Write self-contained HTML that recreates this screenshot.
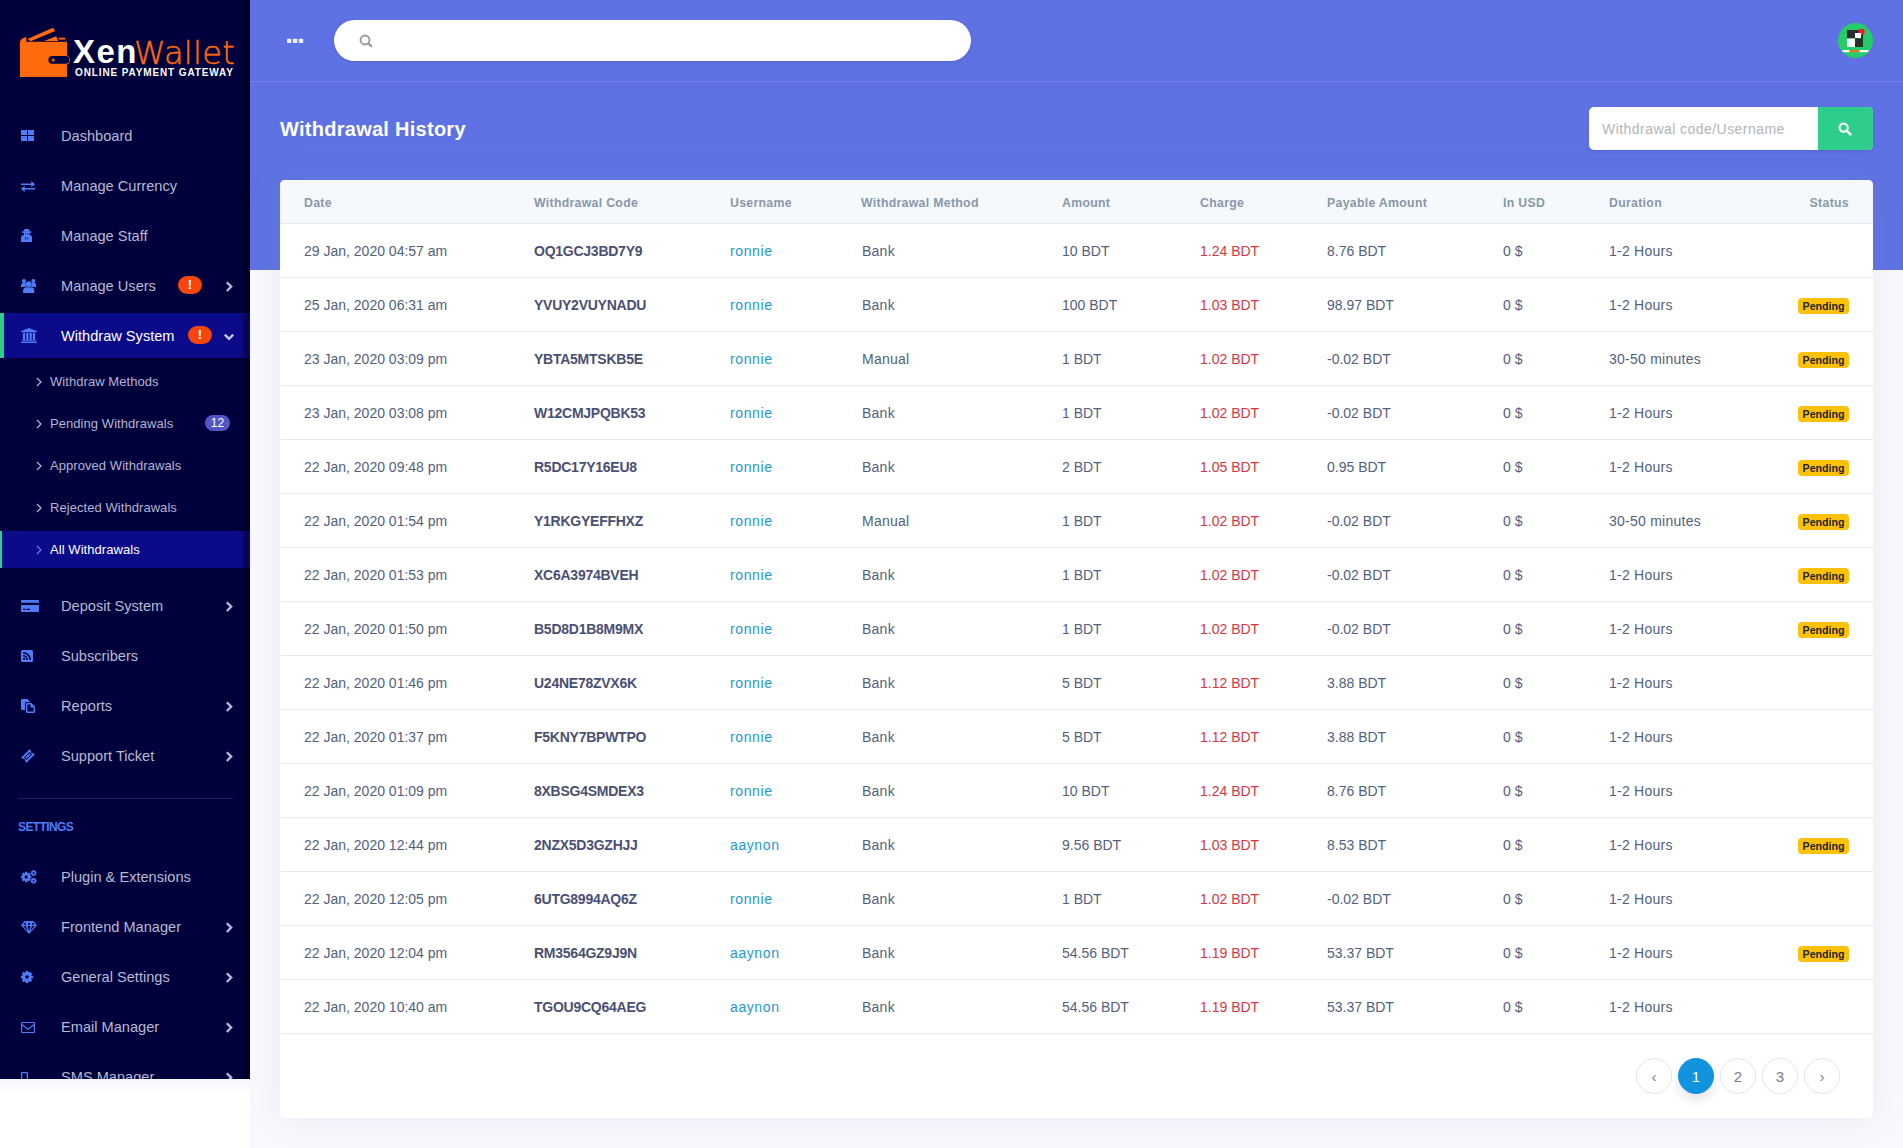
<!DOCTYPE html>
<html lang="en">
<head>
<meta charset="utf-8">
<title>Withdrawal History</title>
<style>
*{box-sizing:border-box;margin:0;padding:0}
html,body{width:1903px;height:1148px;overflow:hidden}
body{font-family:"Liberation Sans",sans-serif;background:#f8f9fe;position:relative;color:#525f7f}
#below{position:absolute;left:0;top:1079px;width:250px;height:69px;background:#fff}
#below:before{content:"";position:absolute;left:0;top:0;width:250px;height:16px;background:linear-gradient(#f7f7fb,#fff)}
#side{position:absolute;left:0;top:0;width:250px;height:1079px;background:#00003d;overflow:hidden}
#side .sb{position:absolute;right:0;top:0;width:9px;height:100%;background:linear-gradient(90deg,rgba(0,0,0,.05),rgba(0,0,0,.45) 55%,rgba(0,0,0,.3));z-index:5}
#hdr{position:absolute;left:250px;top:0;width:1653px;height:270px;background:#5e72e4}
#hdr .line{position:absolute;left:0;top:81px;width:100%;height:1px;background:rgba(255,255,255,.13)}
.mi{position:absolute;left:0;width:250px;height:45px;color:#b9b9d3;font-size:14.6px;line-height:47px;letter-spacing:0}
.mi .t{position:absolute;left:61px;top:0;white-space:nowrap}
.mi svg.ic{position:absolute;left:20px;top:13px;width:18px;height:18px;fill:#4f7bf7}
.mi .ar{position:absolute;left:223px;top:17px;width:12px;height:14px}
.mi.act{background:#0b0b8a;color:#fff;border-left:4px solid #2dce89}
.mi.act .t{left:57px}.mi.act .ex{left:184px}.mi.act svg.ic{left:16px}.mi.act .ar{left:219px}
.ex{position:absolute;left:178px;top:13px;width:24px;height:18px;border-radius:9px;background:#f8450b;color:#fff;font-weight:bold;font-size:13px;line-height:18px;text-align:center}
.si{position:absolute;left:0;width:250px;height:37px;color:#b4b4cf;font-size:13px;line-height:38px;letter-spacing:.06px}
.si .t{position:absolute;left:50px;top:0;white-space:nowrap}
.si svg{position:absolute;left:36px;top:14px;width:6px;height:10px}
.si.act{background:#0b0b8a;color:#fff;border-left:2px solid #2dce89}
.si.act .t{left:48px}.si.act svg{left:34px}
.cnt{position:absolute;left:205px;top:10px;width:25px;height:16px;border-radius:8px;background:#5355c4;color:#fff;font-size:12px;line-height:17px;text-align:center;letter-spacing:0}

#card{position:absolute;left:280px;top:180px;width:1593px;height:938px;background:#fff;border-radius:5px;box-shadow:0 0 32px rgba(136,152,170,.15);overflow:hidden}
table{border-collapse:collapse;table-layout:fixed;width:1593px}
th{height:43px;background:#f6f9fc;color:#8898aa;font-size:12.3px;font-weight:bold;text-align:left;padding:4px 0 0 24px;border-bottom:1px solid #e9ecef;white-space:nowrap;letter-spacing:.3px}
td{height:54px;font-size:14px;color:#525f7f;padding:2px 0 0 24px;border-bottom:1px solid #e9ecef;white-space:nowrap;vertical-align:middle;letter-spacing:0}
th.c10{text-align:right;padding:4px 24px 0 0}td.c10{text-align:right;padding:2px 24px 0 0}
td.c2{font-weight:bold;color:#4a5073;letter-spacing:-.25px}
td.c3{color:#1b9ad6;letter-spacing:.6px}
td.c4{letter-spacing:.25px;padding-left:25px}
td.c9{letter-spacing:.25px}
td.c6{color:#d9363e}
.bdg{display:inline-block;position:relative;top:0;width:51px;height:16px;line-height:16px;padding:0;text-align:center;border-radius:4px;background:#ffc107;color:#212529;font-size:10.6px;font-weight:bold;letter-spacing:0}
.pg{position:absolute;top:878px;width:36px;height:36px;border-radius:50%;border:1px solid #e3e5e8;color:#767c88;font-size:15px;line-height:35px;text-align:center}
.pg.on{background:#1194dd;border-color:#1194dd;color:#fff;box-shadow:0 6px 10px rgba(50,50,93,.12)}
</style>
</head>
<body>
<div id="below"></div>
<div id="hdr"><div class="line"></div></div>
<div id="side"><div class="sb"></div>
<svg style="position:absolute;left:14px;top:20px;width:70px;height:64px" viewBox="14 20 70 64">
<g fill="#ff6b0c">
<path d="M19.900 77.100V43.500c0-3.500 2.300-5.700 5.800-6.200l.5 0 .2 4.400H67v35.400z"/>
<path d="M27.400 39L53 27.800l2.200 3.300L30.700 41.200z"/>
<path d="M44.100 41l12.300-4.800 1.600 4.800z"/>
<rect x="58.600" y="37.700" width="6.600" height="1.900"/>
<rect x="47.600" y="55.300" width="22.500" height="9.200" rx="4.600"/>
</g>
<rect x="48.400" y="56.100" width="20.900" height="7.600" rx="3.800" fill="#00003d"/>
<circle cx="53.300" cy="59.900" r="1.500" fill="#ff6b0c"/>
</svg>
<div style="position:absolute;left:73px;top:35px;font-size:33px;line-height:34px;font-weight:bold;color:#fff;letter-spacing:1.4px;white-space:nowrap">Xen</div>
<div style="position:absolute;left:134px;top:35.500px;font-size:32px;line-height:34px;color:#ff6a0d;-webkit-text-stroke:.45px #ff6a0d;white-space:nowrap;font-family:'DejaVu Sans','Liberation Sans',sans-serif;font-weight:200;letter-spacing:.3px" id="wal">Wallet</div>
<div style="position:absolute;left:75px;top:66.500px;font-size:10px;line-height:12px;font-weight:bold;color:#fff;white-space:nowrap;letter-spacing:.88px" id="opg">ONLINE PAYMENT GATEWAY</div>

<div class="mi" style="top:113px"><span class="t">Dashboard</span></div>
<svg style="position:absolute;left:21px;top:130px;width:13px;height:11px;fill:#4f7cf6" viewBox="0 0 13 11"><rect x="0" y="0" width="6" height="5"/><rect x="7" y="0" width="6" height="5"/><rect x="0" y="6" width="6" height="5"/><rect x="7" y="6" width="6" height="5"/></svg>
<div class="mi" style="top:163px"><span class="t">Manage Currency</span></div>
<svg style="position:absolute;left:21px;top:181px;width:14px;height:11px;fill:#4f7cf6" viewBox="0 0 14 11"><path d="M0 2.400h10.300V0L14 3.200 10.300 6.300V4H0z"/><path d="M14 8.600H3.700V11L0 7.800 3.700 4.700V7H14z"/></svg>
<div class="mi" style="top:213px"><span class="t">Manage Staff</span></div>
<svg style="position:absolute;left:20.8px;top:229px;width:11.4px;height:13px;fill:#4f7cf6" viewBox="0 0 11.4 13"><path d="M3.500 0h4.400l1 2.500H2.500z"/><rect x="1.100" y="2.300" width="9.200" height="1.700" rx=".7"/><path fill-rule="evenodd" d="M2.900 3.900h5.600v2.400H2.900zM4 4.500v.7h1.200v-.7zM6.200 4.500v.7h1.200v-.7z"/><path fill-rule="evenodd" d="M0 13V9c0-1.800 1.300-3 3-3h5.400c1.700 0 3 1.200 3 3v4zM4.200 8.200v2.200h.8V8.200zM6.400 8.200v2.200h.8V8.200z"/></svg>
<div class="mi" style="top:263px"><span class="t">Manage Users</span><span class="ex">!</span><svg class="ar" viewBox="0 0 12 14"><path d="M3.800 2.200 L8.200 6.600 L3.800 11" fill="none" stroke="#b9b9d6" stroke-width="2.300"/></svg></div>
<svg style="position:absolute;left:20.8px;top:279px;width:15.4px;height:14px;fill:#4f7cf6" viewBox="0 0 15.4 14"><circle cx="7.700" cy="5.100" r="2.900"/><path d="M2.100 14v-2.600c0-1.900 1.500-3.100 3.300-3.100h4.600c1.800 0 3.300 1.200 3.300 3.100V14z"/><circle cx="3" cy="2.100" r="2.100"/><circle cx="12.400" cy="2.100" r="2.100"/><path d="M0 8.100V6.200c0-1.400 1-2.300 2.300-2.300h1.400c.4 0 .8.100 1.100.300-.3 1.300.1 2.500 1 3.400-1.300.1-2.300.300-3 .500z"/><path d="M15.400 8.100V6.200c0-1.400-1-2.300-2.300-2.300h-1.400c-.4 0-.8.100-1.100.300.3 1.300-.1 2.500-1 3.400 1.300.1 2.300.300 3 .500z"/></svg>
<div class="mi act" style="top:313px"><span class="t">Withdraw System</span><span class="ex">!</span><svg class="ar" viewBox="0 0 12 14"><path d="M1.800 4.600 L6 8.800 L10.200 4.600" fill="none" stroke="#c4c4e8" stroke-width="2.300"/></svg></div>
<svg style="position:absolute;left:21px;top:328px;width:16px;height:15px;fill:#4f7cf6" viewBox="0 0 16 15"><path d="M8 0l8 3.200v1H0v-1z"/><rect x="2" y="5" width="2.200" height="7"/><rect x="5.300" y="5" width="2.200" height="7"/><rect x="8.600" y="5" width="2.200" height="7"/><rect x="11.900" y="5" width="2.200" height="7"/><rect x="1" y="12.300" width="14" height="1.100"/><rect x="0" y="13.800" width="16" height="1.200"/></svg>
<div class="mi" style="top:583px"><span class="t">Deposit System</span><svg class="ar" viewBox="0 0 12 14"><path d="M3.800 2.200 L8.200 6.600 L3.800 11" fill="none" stroke="#b9b9d6" stroke-width="2.300"/></svg></div>
<svg style="position:absolute;left:21px;top:600px;width:18px;height:12px;fill:#4f7cf6" viewBox="0 0 18 12"><path d="M1.200 0h15.600A1.200 1.200 0 0 1 18 1.200V2.800H0V1.200A1.200 1.200 0 0 1 1.200 0z"/><path d="M0 5h18v5.800A1.200 1.200 0 0 1 16.800 12H1.200A1.200 1.200 0 0 1 0 10.800zM2 8.800h2.300v1.200H2zM5.300 8.800h3.700v1.200h-3.700z" fill-rule="evenodd"/></svg>
<div class="mi" style="top:633px"><span class="t">Subscribers</span></div>
<svg style="position:absolute;left:21px;top:650px;width:12px;height:12px;fill:#4f7cf6" viewBox="0 0 12 12"><path fill-rule="evenodd" d="M1.500 0h9A1.500 1.500 0 0 1 12 1.500v9A1.500 1.500 0 0 1 10.500 12h-9A1.500 1.500 0 0 1 0 10.500v-9A1.500 1.500 0 0 1 1.500 0zM2 2v1.600a6.400 6.400 0 0 1 6.400 6.400H10A8 8 0 0 0 2 2zm0 3v1.600A3.400 3.400 0 0 1 5.400 10H7a5 5 0 0 0-5-5zm1.100 2.800a1.100 1.100 0 1 0 0 2.200 1.100 1.100 0 0 0 0-2.200z"/></svg>
<div class="mi" style="top:683px"><span class="t">Reports</span><svg class="ar" viewBox="0 0 12 14"><path d="M3.800 2.200 L8.200 6.600 L3.800 11" fill="none" stroke="#b9b9d6" stroke-width="2.300"/></svg></div>
<svg style="position:absolute;left:21px;top:699px;width:14px;height:14px;fill:#4f7cf6" viewBox="0 0 14 14"><path d="M1 0h5.500L9 2.500V3H5a1 1 0 0 0-1 1v7H1a1 1 0 0 1-1-1V1a1 1 0 0 1 1-1z"/><path fill-rule="evenodd" d="M6 4h4.500L14 7.500V13a1 1 0 0 1-1 1H6a1 1 0 0 1-1-1V5a1 1 0 0 1 1-1zm.4 1.400v7.200h6.200V8.500H9.500v-3.100z"/></svg>
<div class="mi" style="top:733px"><span class="t">Support Ticket</span><svg class="ar" viewBox="0 0 12 14"><path d="M3.800 2.200 L8.200 6.600 L3.800 11" fill="none" stroke="#b9b9d6" stroke-width="2.300"/></svg></div>
<svg style="position:absolute;left:21px;top:749px;width:14px;height:14px;fill:#4f7cf6" viewBox="0 0 14 14"><path fill-rule="evenodd" d="M8.600 0.300l1.500 1.500a1.500 1.500 0 0 0 2.100 2.100l1.500 1.500-8.300 8.300-1.500-1.500a1.500 1.500 0 0 0-2.100-2.100L0.300 8.600zM8.500 3L3 8.500 5.500 11 11 5.500zm0 1.300l1.200 1.200-4.200 4.200-1.200-1.200z"/></svg>
<div class="mi" style="top:854px"><span class="t">Plugin &amp; Extensions</span></div>
<svg style="position:absolute;left:21px;top:870px;width:16px;height:14px;fill:#4f7cf6" viewBox="0 0 16 14"><path fill-rule="evenodd" d="M8.99 5.73 L10.38 5.86 L10.38 8.14 L8.99 8.27 L8.78 8.78 L9.66 9.86 L8.06 11.46 L6.98 10.58 L6.47 10.79 L6.34 12.18 L4.06 12.18 L3.93 10.79 L3.42 10.58 L2.34 11.46 L0.74 9.86 L1.62 8.78 L1.41 8.27 L0.02 8.14 L0.02 5.86 L1.41 5.73 L1.62 5.22 L0.74 4.14 L2.34 2.54 L3.42 3.42 L3.93 3.21 L4.06 1.82 L6.34 1.82 L6.47 3.21 L6.98 3.42 L8.06 2.54 L9.66 4.14 L8.78 5.22z M3.50 7.00a1.70 1.70 0 1 0 3.40 0a1.70 1.70 0 1 0 -3.40 0z"/><path fill-rule="evenodd" d="M14.65 2.20 L15.61 2.24 L15.61 3.76 L14.65 3.80 L14.50 4.11 L15.07 4.88 L13.88 5.82 L13.26 5.10 L12.92 5.18 L12.67 6.10 L11.19 5.76 L11.37 4.82 L11.10 4.61 L10.22 4.99 L9.56 3.62 L10.41 3.17 L10.41 2.83 L9.56 2.38 L10.22 1.01 L11.10 1.39 L11.37 1.18 L11.19 0.24 L12.67 -0.10 L12.92 0.82 L13.26 0.90 L13.88 0.18 L15.07 1.12 L14.50 1.89z M11.70 3.00a0.90 0.90 0 1 0 1.80 0a0.90 0.90 0 1 0 -1.80 0z"/><path fill-rule="evenodd" d="M14.65 10.00 L15.61 10.04 L15.61 11.56 L14.65 11.60 L14.50 11.91 L15.07 12.68 L13.88 13.62 L13.26 12.90 L12.92 12.98 L12.67 13.90 L11.19 13.56 L11.37 12.62 L11.10 12.41 L10.22 12.79 L9.56 11.42 L10.41 10.97 L10.41 10.63 L9.56 10.18 L10.22 8.81 L11.10 9.19 L11.37 8.98 L11.19 8.04 L12.67 7.70 L12.92 8.62 L13.26 8.70 L13.88 7.98 L15.07 8.92 L14.50 9.69z M11.70 10.80a0.90 0.90 0 1 0 1.80 0a0.90 0.90 0 1 0 -1.80 0z"/></svg>
<div class="mi" style="top:904px"><span class="t">Frontend Manager</span><svg class="ar" viewBox="0 0 12 14"><path d="M3.800 2.200 L8.200 6.600 L3.800 11" fill="none" stroke="#b9b9d6" stroke-width="2.300"/></svg></div>
<svg style="position:absolute;left:21px;top:921px;width:16px;height:13px;fill:#4f7cf6" viewBox="0 0 16 13"><path fill-rule="evenodd" d="M3.500 0h9L16 4.200 8 13 0 4.200zM4.200 1.300L2.300 3.700h3zm3.800 0L6.500 3.700h3zm3.800 0L10.700 3.700h3zM2.300 5L6.600 9.900 5 5zm4.200 0L8 10.300 9.500 5zm4.500 0L9.400 9.900 13.700 5z"/></svg>
<div class="mi" style="top:954px"><span class="t">General Settings</span><svg class="ar" viewBox="0 0 12 14"><path d="M3.800 2.200 L8.200 6.600 L3.800 11" fill="none" stroke="#b9b9d6" stroke-width="2.300"/></svg></div>
<svg style="position:absolute;left:21px;top:971px;width:12px;height:12px;fill:#4f7cf6" viewBox="0 0 12 12"><path fill-rule="evenodd" d="M10.46 4.50 L11.96 4.69 L11.96 7.31 L10.46 7.50 L10.21 8.09 L11.14 9.29 L9.29 11.14 L8.09 10.21 L7.50 10.46 L7.31 11.96 L4.69 11.96 L4.50 10.46 L3.91 10.21 L2.71 11.14 L0.86 9.29 L1.79 8.09 L1.54 7.50 L0.04 7.31 L0.04 4.69 L1.54 4.50 L1.79 3.91 L0.86 2.71 L2.71 0.86 L3.91 1.79 L4.50 1.54 L4.69 0.04 L7.31 0.04 L7.50 1.54 L8.09 1.79 L9.29 0.86 L11.14 2.71 L10.21 3.91z M4.20 6.00a1.80 1.80 0 1 0 3.60 0a1.80 1.80 0 1 0 -3.60 0z"/></svg>
<div class="mi" style="top:1004px"><span class="t">Email Manager</span><svg class="ar" viewBox="0 0 12 14"><path d="M3.800 2.200 L8.200 6.600 L3.800 11" fill="none" stroke="#b9b9d6" stroke-width="2.300"/></svg></div>
<svg style="position:absolute;left:21px;top:1022px;width:14px;height:11px;fill:#4f7cf6" viewBox="0 0 14 11"><path fill-rule="evenodd" d="M1 0h12a1 1 0 0 1 1 1v9a1 1 0 0 1-1 1H1a1 1 0 0 1-1-1V1a1 1 0 0 1 1-1zm.2 1.100v.9L7 6.500 12.800 2v-.9zm0 2.300v6.500h11.600V3.400L7 7.900z"/></svg>
<div class="mi" style="top:1054px"><span class="t">SMS Manager</span><svg class="ar" viewBox="0 0 12 14"><path d="M3.800 2.200 L8.200 6.600 L3.800 11" fill="none" stroke="#b9b9d6" stroke-width="2.300"/></svg></div>
<svg style="position:absolute;left:21px;top:1072px;width:7px;height:12px;fill:#4f7cf6" viewBox="0 0 7 12"><path fill-rule="evenodd" d="M1 0h5a1 1 0 0 1 1 1v10a1 1 0 0 1-1 1H1a1 1 0 0 1-1-1V1a1 1 0 0 1 1-1zm.3 1.300v8h4.400v-8z"/></svg>
<div class="si" style="top:363px"><svg viewBox="0 0 6 10"><path d="M1 1 L5 5 L1 9" fill="none" stroke="#b9b9cf" stroke-width="1.2"/></svg><span class="t">Withdraw Methods</span></div>
<div class="si" style="top:405px"><svg viewBox="0 0 6 10"><path d="M1 1 L5 5 L1 9" fill="none" stroke="#b9b9cf" stroke-width="1.2"/></svg><span class="t">Pending Withdrawals</span><span class="cnt">12</span></div>
<div class="si" style="top:447px"><svg viewBox="0 0 6 10"><path d="M1 1 L5 5 L1 9" fill="none" stroke="#b9b9cf" stroke-width="1.2"/></svg><span class="t">Approved Withdrawals</span></div>
<div class="si" style="top:489px"><svg viewBox="0 0 6 10"><path d="M1 1 L5 5 L1 9" fill="none" stroke="#b9b9cf" stroke-width="1.2"/></svg><span class="t">Rejected Withdrawals</span></div>
<div class="si act" style="top:531px"><svg viewBox="0 0 6 10"><path d="M1 1 L5 5 L1 9" fill="none" stroke="#6a7cf0" stroke-width="1.2"/></svg><span class="t">All Withdrawals</span></div>
<div style="position:absolute;left:18px;top:798px;width:215px;height:1px;background:#1f1f5e"></div>
<div style="position:absolute;left:18px;top:817.5px;font-size:12px;line-height:18px;font-weight:bold;color:#4f7cf6;letter-spacing:-.6px">SETTINGS</div>
</div>
<svg style="position:absolute;left:287px;top:38px;width:17px;height:6px" viewBox="0 0 17 6"><g fill="#eef0fc"><rect x="0" y="0.800" width="4.400" height="4.200" rx=".8"/><rect x="5.900" y="0.800" width="4.400" height="4.200" rx=".8"/><rect x="11.800" y="0.800" width="4.400" height="4.200" rx=".8"/></g></svg>
<div style="position:absolute;left:334px;top:20px;width:637px;height:41px;border-radius:21px;background:#fff;box-shadow:0 1px 3px rgba(50,50,93,.15),0 1px 0 rgba(0,0,0,.02)">
<svg style="position:absolute;left:25px;top:14px;width:14px;height:14px" viewBox="0 0 14 14"><circle cx="6" cy="6" r="4.500" fill="none" stroke="#9a9a9a" stroke-width="1.900"/><path d="M9.600 9.600L12.300 12.300" stroke="#9a9a9a" stroke-width="2.200" stroke-linecap="round"/></svg>
</div>
<div style="position:absolute;left:1838px;top:23px;width:35px;height:35px;border-radius:50%;background:#25cd68;overflow:hidden">
<svg style="position:absolute;left:0;top:0;width:35px;height:35px" viewBox="0 0 35 35"><rect x="9" y="7" width="8" height="8.500" fill="#2a2a2e"/><rect x="17" y="7" width="8" height="8.500" fill="#2a2a2e"/><rect x="17" y="10" width="6" height="5" fill="#fff"/><rect x="20.500" y="6" width="6" height="6" rx="1" fill="#e8202a"/><rect x="17" y="10" width="6" height="5" fill="#fff"/><rect x="9" y="15.500" width="8" height="8.500" fill="#f4fff6"/><rect x="17" y="15.500" width="8" height="8.500" fill="#23352a"/><rect x="4.500" y="27" width="7" height="2.200" fill="#fff"/><rect x="11.500" y="27" width="10" height="2.200" fill="#e8742a"/><rect x="21.500" y="27" width="9" height="2.200" fill="#fff"/></svg>
</div>
<div style="position:absolute;left:280px;top:114px;font-size:20px;line-height:30px;font-weight:bold;color:#fff;white-space:nowrap;letter-spacing:.27px" id="ttl">Withdrawal History</div>
<div style="position:absolute;left:1589px;top:107px;width:284px;height:43px;border-radius:5px;background:#fff;box-shadow:0 1px 3px rgba(50,50,93,.15),0 1px 0 rgba(0,0,0,.02);overflow:hidden">
<span style="position:absolute;left:13px;top:0;line-height:45px;font-size:14px;color:#b1b5ba;white-space:nowrap;letter-spacing:.45px" id="ph">Withdrawal code/Username</span>
<div style="position:absolute;left:229px;top:0;width:55px;height:43px;background:#2dce89"><svg style="position:absolute;left:20px;top:15px;width:14px;height:14px" viewBox="0 0 14 14"><circle cx="5.600" cy="5.600" r="4.100" fill="none" stroke="#fff" stroke-width="2.100"/><path d="M8.700 8.700L12.400 12.400" stroke="#fff" stroke-width="2.400" stroke-linecap="round"/></svg></div>
</div>

<div id="card">
<table>
<colgroup><col style="width:230px"><col style="width:196px"><col style="width:131px"><col style="width:201px"><col style="width:138px"><col style="width:127px"><col style="width:176px"><col style="width:106px"><col style="width:165px"><col style="width:123px"></colgroup>
<thead><tr><th>Date</th><th>Withdrawal Code</th><th>Username</th><th>Withdrawal Method</th><th>Amount</th><th>Charge</th><th>Payable Amount</th><th>In USD</th><th>Duration</th><th class="c10">Status</th></tr></thead>
<tbody>
<tr><td class="c1">29 Jan, 2020 04:57 am</td><td class="c2">OQ1GCJ3BD7Y9</td><td class="c3">ronnie</td><td class="c4">Bank</td><td class="c5">10 BDT</td><td class="c6">1.24 BDT</td><td class="c7">8.76 BDT</td><td class="c8">0 $</td><td class="c9">1-2 Hours</td><td class="c10"></td></tr>
<tr><td class="c1">25 Jan, 2020 06:31 am</td><td class="c2">YVUY2VUYNADU</td><td class="c3">ronnie</td><td class="c4">Bank</td><td class="c5">100 BDT</td><td class="c6">1.03 BDT</td><td class="c7">98.97 BDT</td><td class="c8">0 $</td><td class="c9">1-2 Hours</td><td class="c10"><span class="bdg">Pending</span></td></tr>
<tr><td class="c1">23 Jan, 2020 03:09 pm</td><td class="c2">YBTA5MTSKB5E</td><td class="c3">ronnie</td><td class="c4">Manual</td><td class="c5">1 BDT</td><td class="c6">1.02 BDT</td><td class="c7">-0.02 BDT</td><td class="c8">0 $</td><td class="c9">30-50 minutes</td><td class="c10"><span class="bdg">Pending</span></td></tr>
<tr><td class="c1">23 Jan, 2020 03:08 pm</td><td class="c2">W12CMJPQBK53</td><td class="c3">ronnie</td><td class="c4">Bank</td><td class="c5">1 BDT</td><td class="c6">1.02 BDT</td><td class="c7">-0.02 BDT</td><td class="c8">0 $</td><td class="c9">1-2 Hours</td><td class="c10"><span class="bdg">Pending</span></td></tr>
<tr><td class="c1">22 Jan, 2020 09:48 pm</td><td class="c2">R5DC17Y16EU8</td><td class="c3">ronnie</td><td class="c4">Bank</td><td class="c5">2 BDT</td><td class="c6">1.05 BDT</td><td class="c7">0.95 BDT</td><td class="c8">0 $</td><td class="c9">1-2 Hours</td><td class="c10"><span class="bdg">Pending</span></td></tr>
<tr><td class="c1">22 Jan, 2020 01:54 pm</td><td class="c2">Y1RKGYEFFHXZ</td><td class="c3">ronnie</td><td class="c4">Manual</td><td class="c5">1 BDT</td><td class="c6">1.02 BDT</td><td class="c7">-0.02 BDT</td><td class="c8">0 $</td><td class="c9">30-50 minutes</td><td class="c10"><span class="bdg">Pending</span></td></tr>
<tr><td class="c1">22 Jan, 2020 01:53 pm</td><td class="c2">XC6A3974BVEH</td><td class="c3">ronnie</td><td class="c4">Bank</td><td class="c5">1 BDT</td><td class="c6">1.02 BDT</td><td class="c7">-0.02 BDT</td><td class="c8">0 $</td><td class="c9">1-2 Hours</td><td class="c10"><span class="bdg">Pending</span></td></tr>
<tr><td class="c1">22 Jan, 2020 01:50 pm</td><td class="c2">B5D8D1B8M9MX</td><td class="c3">ronnie</td><td class="c4">Bank</td><td class="c5">1 BDT</td><td class="c6">1.02 BDT</td><td class="c7">-0.02 BDT</td><td class="c8">0 $</td><td class="c9">1-2 Hours</td><td class="c10"><span class="bdg">Pending</span></td></tr>
<tr><td class="c1">22 Jan, 2020 01:46 pm</td><td class="c2">U24NE78ZVX6K</td><td class="c3">ronnie</td><td class="c4">Bank</td><td class="c5">5 BDT</td><td class="c6">1.12 BDT</td><td class="c7">3.88 BDT</td><td class="c8">0 $</td><td class="c9">1-2 Hours</td><td class="c10"></td></tr>
<tr><td class="c1">22 Jan, 2020 01:37 pm</td><td class="c2">F5KNY7BPWTPO</td><td class="c3">ronnie</td><td class="c4">Bank</td><td class="c5">5 BDT</td><td class="c6">1.12 BDT</td><td class="c7">3.88 BDT</td><td class="c8">0 $</td><td class="c9">1-2 Hours</td><td class="c10"></td></tr>
<tr><td class="c1">22 Jan, 2020 01:09 pm</td><td class="c2">8XBSG4SMDEX3</td><td class="c3">ronnie</td><td class="c4">Bank</td><td class="c5">10 BDT</td><td class="c6">1.24 BDT</td><td class="c7">8.76 BDT</td><td class="c8">0 $</td><td class="c9">1-2 Hours</td><td class="c10"></td></tr>
<tr><td class="c1">22 Jan, 2020 12:44 pm</td><td class="c2">2NZX5D3GZHJJ</td><td class="c3">aaynon</td><td class="c4">Bank</td><td class="c5">9.56 BDT</td><td class="c6">1.03 BDT</td><td class="c7">8.53 BDT</td><td class="c8">0 $</td><td class="c9">1-2 Hours</td><td class="c10"><span class="bdg">Pending</span></td></tr>
<tr><td class="c1">22 Jan, 2020 12:05 pm</td><td class="c2">6UTG8994AQ6Z</td><td class="c3">ronnie</td><td class="c4">Bank</td><td class="c5">1 BDT</td><td class="c6">1.02 BDT</td><td class="c7">-0.02 BDT</td><td class="c8">0 $</td><td class="c9">1-2 Hours</td><td class="c10"></td></tr>
<tr><td class="c1">22 Jan, 2020 12:04 pm</td><td class="c2">RM3564GZ9J9N</td><td class="c3">aaynon</td><td class="c4">Bank</td><td class="c5">54.56 BDT</td><td class="c6">1.19 BDT</td><td class="c7">53.37 BDT</td><td class="c8">0 $</td><td class="c9">1-2 Hours</td><td class="c10"><span class="bdg">Pending</span></td></tr>
<tr><td class="c1">22 Jan, 2020 10:40 am</td><td class="c2">TGOU9CQ64AEG</td><td class="c3">aaynon</td><td class="c4">Bank</td><td class="c5">54.56 BDT</td><td class="c6">1.19 BDT</td><td class="c7">53.37 BDT</td><td class="c8">0 $</td><td class="c9">1-2 Hours</td><td class="c10"></td></tr>
</tbody>
</table>
<div class="pg" style="left:1356px">&#8249;</div><div class="pg on" style="left:1398px">1</div><div class="pg" style="left:1440px">2</div><div class="pg" style="left:1482px">3</div><div class="pg" style="left:1524px">&#8250;</div>
</div>

</body>
</html>
